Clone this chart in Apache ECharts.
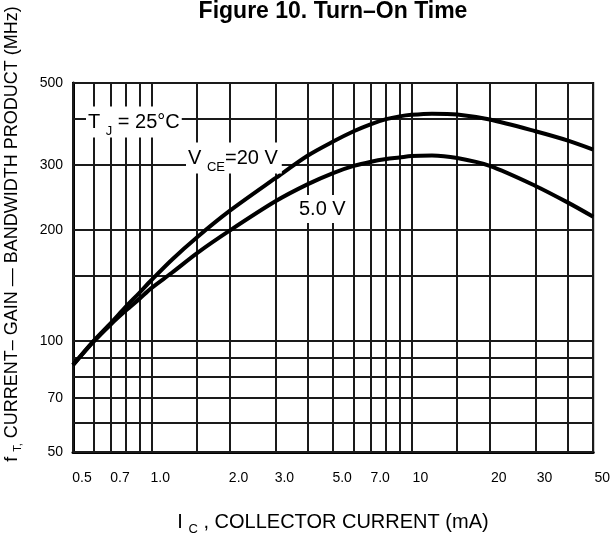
<!DOCTYPE html>
<html>
<head>
<meta charset="utf-8">
<title>Figure 10</title>
<script src="https://cdn.jsdelivr.net/npm/echarts@6/dist/echarts.min.js"></script>
<style>
  html, body { margin: 0; padding: 0; background: #fff; }
  #chart { width: 613px; height: 535px; }
</style>
</head>
<body>
<div id="chart"></div>
<script>
// collector current, mA
var currents = [0.5, 0.6, 0.7, 0.8, 0.9, 1.0, 1.2, 1.5, 2, 3, 4, 5, 6, 7, 8, 9, 10, 12, 15, 20, 30, 40, 50];
// fT (MHz) at VCE = 20 V
var ft20V = [86, 100, 112, 124, 135, 146, 166, 191, 225, 276, 318, 347, 370, 387, 399, 406, 410, 413, 411, 398, 370, 349, 330];
// fT (MHz) at VCE = 5.0 V
var ft5V = [86, 99.5, 111, 121, 130, 139, 153, 173, 199, 239, 266, 285, 298, 306, 311, 314, 317, 318, 313, 298, 263, 237, 217];

var xGridValues = [0.5, 0.6, 0.7, 0.8, 0.9, 1, 1.5, 2, 3, 4, 5, 6, 7, 8, 9, 10, 15, 20, 30, 40, 50];
var xLabelValues = [0.5, 0.7, 1, 2, 3, 5, 7, 10, 20, 30, 50];
var yGridValues = [50, 60, 70, 80, 90, 100, 150, 200, 300, 400, 500];
var yLabelValues = [50, 70, 100, 200, 300, 500];

var FONT = 'Liberation Sans, Arial, sans-serif';

function pairs(ys) {
  return currents.map(function (c, i) { return [c, ys[i]]; });
}

var gridLines = xGridValues.map(function (v) { return { xAxis: v }; })
  .concat(yGridValues.map(function (v) { return { yAxis: v }; }));

var chart = echarts.init(document.getElementById('chart'));
chart.setOption({
  animation: false,
  backgroundColor: '#fff',
  textStyle: { fontFamily: FONT },
  grid: {
    left: 73, right: 8, top: 83, bottom: 83,
    show: true, borderColor: '#111', borderWidth: 2
  },
  xAxis: {
    type: 'log', logBase: 10, min: 0.5, max: 50,
    axisLine: { show: true, lineStyle: { color: '#000', width: 3 } },
    axisTick: { show: false },
    splitLine: { show: false },
    minorSplitLine: { show: false },
    axisLabel: {
      customValues: xLabelValues,
      showMinLabel: true, showMaxLabel: true,
      color: '#000', fontSize: 14, fontFamily: FONT,
      margin: 19, padding: [0, 0, 0, 18],
      formatter: function (v) {
        return v >= 10 ? String(Math.round(v)) : (Math.round(v * 10) / 10).toFixed(1);
      }
    }
  },
  yAxis: {
    type: 'log', logBase: 10, min: 50, max: 500,
    axisLine: { show: true, lineStyle: { color: '#000', width: 3 } },
    axisTick: { show: false },
    splitLine: { show: false },
    minorSplitLine: { show: false },
    axisLabel: {
      customValues: yLabelValues,
      showMinLabel: true, showMaxLabel: true,
      color: '#000', fontSize: 14, fontFamily: FONT, margin: 10,
      padding: [0, 0, 8, 0],
      formatter: function (v) { return String(Math.round(v)); }
    }
  },
  series: [
    {
      name: 'grid',
      type: 'line',
      data: [],
      silent: true,
      markLine: {
        silent: true,
        symbol: 'none',
        label: { show: false },
        lineStyle: { color: '#1a1a1a', width: 2, type: 'solid' },
        emphasis: { disabled: true },
        data: gridLines
      }
    },
    {
      name: 'VCE = 20 V',
      type: 'line',
      data: pairs(ft20V),
      smooth: 0.3,
      symbol: 'none',
      lineStyle: { color: '#000', width: 4 },
      z: 5
    },
    {
      name: 'VCE = 5.0 V',
      type: 'line',
      data: pairs(ft5V),
      smooth: 0.3,
      symbol: 'none',
      lineStyle: { color: '#000', width: 4 },
      z: 5
    }
  ],
  graphic: [
    {
      type: 'text', z: 100, x: 333, y: 12,
      style: {
        text: 'Figure 10. Turn\u2013On Time',
        font: 'bold 23px ' + FONT, fill: '#000',
        align: 'center', verticalAlign: 'middle'
      }
    },
    {
      type: 'text', z: 100, x: 86, y: 122,
      style: {
        text: '{m|T }{s|J}{m| = 25°C}',
        rich: {
          m: { fontSize: 20, fontFamily: FONT, fill: '#000' },
          s: { fontSize: 13, fontFamily: FONT, fill: '#000', padding: [18, 0, 0, 0] }
        },
        align: 'left', verticalAlign: 'middle',
        backgroundColor: '#fff', padding: [0, 2, 0, 2]
      }
    },
    {
      type: 'text', z: 100, x: 186, y: 158,
      style: {
        text: '{m|V }{s|CE}{m|=20 V}',
        rich: {
          m: { fontSize: 20, fontFamily: FONT, fill: '#000' },
          s: { fontSize: 13, fontFamily: FONT, fill: '#000', padding: [18, 0, 0, 0] }
        },
        align: 'left', verticalAlign: 'middle',
        backgroundColor: '#fff', padding: [0, 4, 0, 2]
      }
    },
    {
      type: 'text', z: 100, x: 297, y: 209,
      style: {
        text: '5.0 V',
        font: '20px ' + FONT, fill: '#000',
        align: 'left', verticalAlign: 'middle',
        backgroundColor: '#fff', padding: [4, 3, 4, 2]
      }
    },
    {
      type: 'text', z: 100, x: 333, y: 522,
      style: {
        text: '{m|I }{s|C}{m| , COLLECTOR CURRENT (mA)}',
        rich: {
          m: { fontSize: 20, fontFamily: FONT, fill: '#000' },
          s: { fontSize: 13, fontFamily: FONT, fill: '#000', padding: [14, 0, 0, 0] }
        },
        align: 'center', verticalAlign: 'middle'
      }
    },
    {
      type: 'text', z: 100, x: 12, y: 234, rotation: Math.PI / 2,
      style: {
        text: '{m|f }{s|T,}{m| CURRENT\u2013 GAIN \u2014 BANDWIDTH PRODUCT (MHz)}',
        rich: {
          m: { fontSize: 18, fontFamily: FONT, fill: '#000' },
          s: { fontSize: 11, fontFamily: FONT, fill: '#000', padding: [12, 0, 0, 0] }
        },
        align: 'center', verticalAlign: 'middle'
      }
    }
  ]
});
</script>
</body>
</html>
